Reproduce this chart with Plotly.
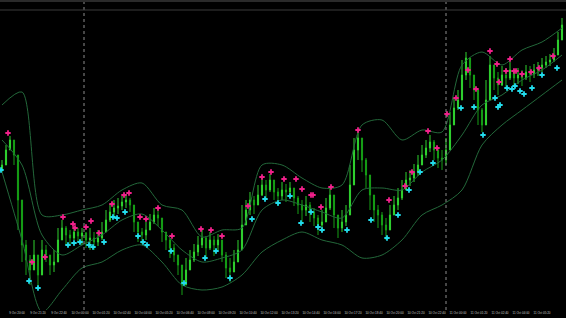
import plotly.graph_objects as go

BASE = 1.3000
PIP = 0.0001

# ---- price bars (points above BASE), one per bar ----
close_pts = [145,160,170,155,110,65,50,40,55,35,
             60,55,45,48,70,82,75,72,78,74,
             77,70,72,68,72,78,90,98,102,104,
             108,110,105,88,78,75,80,88,95,92,
             78,70,62,55,45,25,40,50,58,65,
             72,62,70,65,70,55,42,38,48,60,
             85,100,110,105,115,125,120,130,118,114,
             120,118,122,112,105,100,105,98,92,85,
             88,102,115,95,82,88,95,125,160,172,
             150,135,115,100,95,85,80,95,105,112,
             120,130,132,138,145,155,162,168,160,152,
             150,160,185,202,210,235,252,235,220,200,
             185,210,245,232,225,235,232,240,232,235,
             232,238,236,240,242,245,248,250,255,270,
             285]
high_pts = [150,165,174,162,150,90,70,55,70,50,
            70,65,55,60,82,90,84,80,84,82,
            82,78,82,78,80,88,100,106,110,112,
            114,116,112,98,88,82,88,96,102,102,
            88,78,72,66,55,42,52,60,66,74,
            80,74,78,74,76,70,58,52,60,70,
            105,110,118,114,125,132,130,136,126,122,
            128,126,128,122,114,110,114,108,102,95,
            100,112,124,110,95,100,105,145,172,178,
            162,152,130,115,105,98,92,105,114,122,
            130,138,140,146,155,165,170,175,170,162,
            160,172,198,212,220,250,258,248,230,215,
            202,230,254,245,238,244,242,248,240,242,
            240,245,244,246,248,252,254,256,262,278,
            292]
low_pts = [138,150,160,145,80,48,35,25,40,20,
           35,48,35,38,48,70,65,66,70,68,
           65,62,60,60,64,70,78,88,94,96,
           100,102,98,78,68,66,70,80,86,84,
           68,60,52,48,35,15,25,40,48,54,
           62,52,60,54,60,48,32,28,38,48,
           70,88,95,96,105,114,110,118,110,104,
           110,108,112,104,96,88,94,88,84,75,
           78,90,100,82,72,78,84,95,140,150,
           138,122,100,88,82,75,70,82,95,100,
           110,120,124,128,134,145,152,158,150,142,
           140,145,170,190,200,215,230,222,210,185,
           178,195,225,220,215,224,222,230,224,226,
           224,230,228,232,234,238,242,244,248,260,
           275]
first_open_pts = 140

# ---- Bollinger bands, read every 5 bars ----
band_bar = list(range(0, 141, 5))
upper_pts = [205,218,95,95,100,105,120,127,105,100,73,80,82,145,145,132,122,125,
             185,190,170,180,178,245,258,245,260,268,282]
middle_pts = [170,145,75,55,65,75,90,96,80,60,48,52,60,100,110,105,98,92,
              120,122,120,138,150,175,205,215,230,240,255]
lower_pts = [138,70,-2,20,42,48,60,65,48,25,20,23,35,58,70,78,70,65,
             52,55,70,95,105,120,165,185,200,215,230]

# ---- signal arrows ----
sell_bar = [1.5,7.5,10.75,15.25,17.75,18.25,21,22.25,24.25,27.5,30.5,31.75,34.5,36,39,42.5,
            49.75,52.25,55,61.5,65,67.25,70.5,73.5,75,77.25,77.75,79.75,82.25,
            89,96.75,100.75,102.5,106.5,108.75,
            111.25,113.5,116.5,118.5,122,123.75,124.25,126,127,128,128.5,130,132.25,134.25,137.75]
sell_pts = [177,48,53,93,86,82,83,89,77,106,115,117,93,91,102,74,
            81,80,74,104,133,138,131,131,121,115,115,103,123,
            180,110,124,138,179,162,
            196,212,240,221,259,246,228,239,251,239,239,236,238,242,254]
buy_bar = [-0.25,6.75,9,16.5,18,19.5,21.75,22.75,25.5,27.75,28.75,30.75,34,35.25,36.25,42.25,
           45.5,50.75,53.5,57,62.5,65.75,69,72,74.75,77.25,79,80,
           86.25,92.25,96.25,99,101.75,104.5,107.75,
           114.75,118,120.25,123.25,124,124.5,126.25,127.5,128.25,129.5,130.5,132.5,135,138.75]
buy_pts = [140,29,22,65,67,68,65,63,68,93,92,98,74,68,65,59,
           27,52,59,32,91,111,107,114,87,98,83,80,
           80,90,72,95,120,138,147,
           202,203,175,212,203,205,222,221,224,219,216,222,235,242]

# ---- time axis ----
tick_bar = [3.75,9,14.25,19.5,24.75,30,35.25,40.5,45.75,51,56.25,61.5,66.75,72,77.25,
            82.5,87.75,93,98.25,103.5,108.75,114,119.25,124.5,129.75,135,140.25]
tick_text = ["9 Oct 20:00","9 Oct 21:20","9 Oct 22:40","10 Oct 00:00","10 Oct 01:20",
             "10 Oct 02:40","10 Oct 04:00","10 Oct 05:20","10 Oct 06:40","10 Oct 08:00",
             "10 Oct 09:20","10 Oct 10:40","10 Oct 12:00","10 Oct 13:20","10 Oct 14:40",
             "10 Oct 16:00","10 Oct 17:20","10 Oct 18:40","10 Oct 20:00","10 Oct 21:20",
             "10 Oct 22:40","11 Oct 00:00","11 Oct 01:20","11 Oct 02:40","11 Oct 04:00",
             "11 Oct 05:20","11 Oct 06:40"]
day_separators = [20.5, 111]


def to_price(vals):
    return [BASE + v * PIP for v in vals]


bars = list(range(len(close_pts)))
open_pts = [first_open_pts] + close_pts[:-1]

fig = go.Figure()

band_color = "#23683a"
for vals in (upper_pts, middle_pts, lower_pts):
    fig.add_trace(go.Scatter(x=band_bar, y=to_price(vals), mode="lines",
                             line=dict(color=band_color, width=1, shape="spline", smoothing=0.8),
                             hoverinfo="skip"))

fig.add_trace(go.Candlestick(
    x=bars, open=to_price(open_pts), high=to_price(high_pts),
    low=to_price(low_pts), close=to_price(close_pts),
    increasing=dict(line=dict(color="#2ed12e", width=1), fillcolor="#6cff6c"),
    decreasing=dict(line=dict(color="#16a016", width=1), fillcolor="#0f8a0f"),
    whiskerwidth=0, hoverinfo="skip"))

fig.add_trace(go.Scatter(x=sell_bar, y=to_price(sell_pts), mode="markers",
                         marker=dict(symbol="cross", size=4.5, color="#f0208a"),
                         hoverinfo="skip"))
fig.add_trace(go.Scatter(x=buy_bar, y=to_price(buy_pts), mode="markers",
                         marker=dict(symbol="cross", size=4.5, color="#22dcec"),
                         hoverinfo="skip"))

shapes = []
for s in day_separators:
    shapes.append(dict(type="line", xref="x", yref="paper", x0=s, x1=s, y0=0, y1=1 + 10 / 300,
                       line=dict(color="#8c8c8c", width=1, dash="dot")))
shapes.append(dict(type="line", xref="paper", yref="paper", x0=0, x1=1, y0=1, y1=1,
                   line=dict(color="#3a3a3a", width=1)))
shapes.append(dict(type="rect", xref="paper", yref="paper", x0=0, x1=1,
                   y0=1 + 8 / 300, y1=1 + 10 / 300, line=dict(width=0), fillcolor="#2a2a2a"))

fig.update_layout(
    width=566, height=318,
    margin=dict(l=0, r=0, t=10, b=8),
    paper_bgcolor="black", plot_bgcolor="black",
    showlegend=False,
    boxgap=0.6,
    shapes=shapes,
    xaxis=dict(range=[-0.5, 141], showgrid=False, zeroline=False, showline=False,
               tickmode="array", tickvals=tick_bar, ticktext=tick_text, ticks="",
               tickfont=dict(size=3, color="#c8c8c8", family="Liberation Sans"),
               rangeslider=dict(visible=False), fixedrange=True),
    yaxis=dict(range=[BASE, BASE + 300 * PIP], showgrid=False, zeroline=False,
               showticklabels=False, showline=False, fixedrange=True),
)

fig.write_html("out.html", config={"displayModeBar": False})
